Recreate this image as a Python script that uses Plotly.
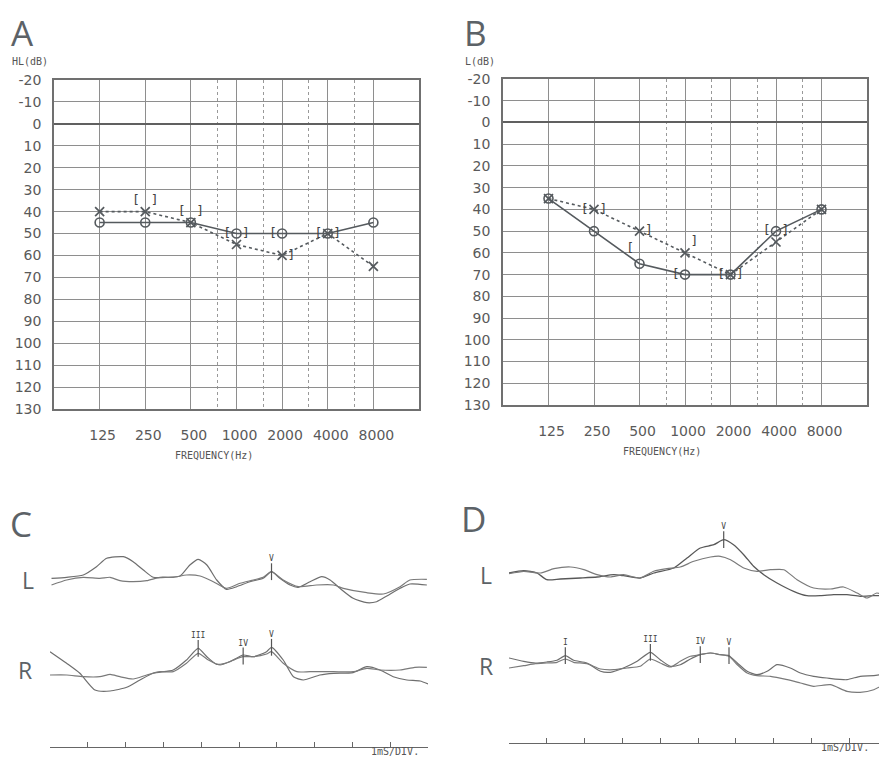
import math
import plotly.graph_objects as go

# page has an 8px body margin: build the figure 8px smaller and shift positions accordingly
OFF = 8
W, H = 887 - OFF, 758 - OFF
def px(x): return (x - OFF) / W
def py(y): return 1 - (y - OFF) / H

# ---------------- Audiogram data ----------------
freqs = [125, 250, 500, 1000, 2000, 4000, 8000]
freq_labels = ["125", "250", "500", "1000", "2000", "4000", "8000"]
half_octaves = [750, 1500, 3000, 6000]
db_ticks = list(range(-20, 131, 10))

A_air_R = [45, 45, 45, 50, 50, 50, 45]
A_air_L = [40, 40, 45, 55, 60, 50, 65]
A_boneR_f = [250, 500, 1000, 2000, 4000]
A_boneR_db = [35, 40, 50, 50, 50]
A_boneL_f = [250, 500, 1000, 2000, 4000]
A_boneL_db = [35, 40, 50, 60, 50]

B_air_R = [35, 50, 65, 70, 70, 50, 40]
B_air_L = [35, 40, 50, 60, 70, 55, 40]
B_boneR_f = [250, 500, 1000, 2000, 4000]
B_boneR_db = [40, 58, 70, 70, 50]
B_boneL_f = [250, 500, 1000, 2000, 4000]
B_boneL_db = [40, 50, 55, 70, 50]

# ---------------- ABR data (ms, arbitrary amplitude) ----------------
C_L1_ms = [0.04, 0.44, 0.88, 1.23, 1.50, 1.94, 2.20, 2.47, 2.73, 3.09, 3.44, 3.70, 3.92, 4.15, 4.41, 4.67, 4.94,
           5.29, 5.64, 5.86, 6.08, 6.35, 6.57, 6.88, 7.19, 7.41, 7.67, 8.02, 8.38, 8.64, 8.91, 9.26, 9.52, 9.97]
C_L1_amp = [1.7, 2.7, 5, 13.3, 21.7, 23.3, 18.3, 10, 2.7, 2.7, 4, 15, 20.7, 15, 0, -9.3, -6.7,
            -1.7, 1.7, 8.3, 1.7, -5, -7.3, -1.7, 3.3, 0, -8.3, -18.3, -22.7, -21.7, -16, -8.3, -4, -5]
C_L2_ms = [0.04, 0.44, 0.88, 1.32, 1.59, 1.85, 2.20, 2.56, 2.91, 3.26, 3.61, 3.97, 4.32, 4.67, 5.03, 5.38,
           5.64, 5.86, 6.17, 6.57, 7.05, 7.50, 7.76, 8.38, 8.82, 9.26, 9.52, 9.97]
C_L2_amp = [-5, 0, 2.7, 1.7, 2.7, -0.7, -1.7, -0.7, 2.7, 2.7, 5, 4, -1.7, -8.3, -3.3, 0,
            2.7, 8.3, 0, -6.7, -5, -5, -8.3, -12.7, -14, -6.7, 0, 0.7]

C_R1_ms = [0.0, 0.44, 0.79, 1.19, 1.59, 2.03, 2.38, 2.73, 3.26, 3.61, 3.92, 4.15, 4.41, 4.76, 5.11, 5.38,
           5.73, 5.86, 6.17, 6.44, 6.70, 7.14, 7.50, 8.02, 8.38, 8.73, 9.08, 9.44, 9.79, 10.0]
C_R1_amp = [23.3, 11.7, 1.7, -15, -16, -12.3, -5, 1.7, 5, 15, 26.7, 18.3, 10.7, 13.3, 20, 18.3,
            23.3, 27.7, 15, -1.7, -5, 0, 1.7, 2.3, 8.3, 5, -1.7, -5, -6, -9]
C_R2_ms = [0.0, 0.44, 0.88, 1.32, 1.59, 1.85, 2.20, 2.56, 2.91, 3.26, 3.61, 3.92, 4.19, 4.50, 4.85, 5.11,
           5.38, 5.73, 5.86, 6.17, 6.53, 6.88, 7.50, 8.02, 8.38, 8.73, 9.26, 9.65, 9.97]
C_R2_amp = [0, 0, -1.7, -1.7, 0.7, -1.7, -4, 0, 3.3, 3.3, 11.7, 21.7, 15, 10, 15, 18.3,
            18.3, 21, 23.3, 11.7, 3.3, 3.3, 3.3, 3.3, 6.7, 5, 5, 7.7, 7.7]

D_L1_ms = [0.0, 0.39, 0.74, 1.00, 1.36, 1.89, 2.33, 2.77, 3.03, 3.47, 3.83, 4.36, 4.71, 5.06, 5.42, 5.68,
           5.94, 6.21, 6.47, 6.74, 7.09, 7.53, 7.88, 8.24, 8.59, 8.94, 9.29, 9.65, 9.91]
D_L1_amp = [0, 2.3, 0, -6.7, -6, -5, -4, -1.7, -2.7, -5, 0, 5, 15, 25, 28.3, 33.3,
            28.3, 18.3, 6.7, -1.7, -10, -18.3, -22.7, -22.7, -21.7, -21.7, -23.3, -22.7, -22.7]
D_L2_ms = [0.0, 0.39, 0.83, 1.19, 1.63, 1.98, 2.33, 2.68, 3.03, 3.47, 3.83, 4.18, 4.53, 4.89, 5.33, 5.59,
           5.86, 6.21, 6.56, 6.92, 7.27, 7.62, 8.06, 8.50, 8.85, 9.21, 9.47, 9.73, 9.95]
D_L2_amp = [-0.7, 1.7, 0, 4.3, 6, 3.3, -1.7, -4, -1.7, -5, 1.7, 4.3, 6, 11.7, 16, 16.7,
            13.3, 5, 1.7, 3.3, 3.3, -6.7, -15, -16, -14, -20, -25, -20, -22.7]

D_R1_ms = [0.0, 0.39, 0.70, 1.00, 1.27, 1.49, 1.71, 2.06, 2.42, 2.68, 3.03, 3.39, 3.74, 4.00, 4.27, 4.53,
           4.80, 5.06, 5.33, 5.59, 5.82, 6.04, 6.30, 6.56, 6.83, 7.09, 7.44, 7.71, 8.06, 8.41, 8.94, 9.29, 9.65, 9.95]
D_R1_amp = [10, 6.7, 5, 6, 7.7, 12.3, 7.7, 5, -3.3, -4.3, 0, 6.7, 15.7, 8.3, 1.7, 3.3,
            9, 13.3, 15, 13.3, 12.3, 5, -3.3, -6.7, -3.3, 3.3, 0, -5, -8.3, -10, -11.7, -8.3, -7.7, -5.7]
D_R2_ms = [0.0, 0.39, 0.70, 1.00, 1.27, 1.49, 1.71, 2.06, 2.42, 2.77, 3.12, 3.47, 3.74, 4.00, 4.27, 4.53,
           4.80, 5.06, 5.33, 5.59, 5.82, 6.04, 6.30, 6.56, 6.92, 7.36, 7.71, 8.06, 8.50, 8.94, 9.29, 9.65, 9.95]
D_R2_amp = [0, 2.3, 4.3, 5, 5.7, 9, 5.7, 4.3, -1, -1.7, 0, 1.7, 9, 5, 1, 6.7,
            11.7, 13.3, 15, 13.3, 11.7, 3.3, -5, -7.7, -8.3, -11.7, -15, -18.3, -16.7, -23.3, -24.3, -21.7, -15.7]

C_L_peak_ms, C_L_peak_amp, C_L_peak_lab = [5.86], [8.3], ["V"]
C_R_peak_ms, C_R_peak_amp, C_R_peak_lab = [3.92, 5.11, 5.86], [26.7, 19.0, 27.7], ["III", "IV", "V"]
D_L_peak_ms, D_L_peak_amp, D_L_peak_lab = [5.68], [33.3], ["V"]
D_R_peak_ms, D_R_peak_amp, D_R_peak_lab = [1.49, 3.74, 5.06, 5.82], [12.3, 15.7, 13.3, 12.3], ["I", "III", "IV", "V"]

C_cal_ms, C_cal_amp = [10.12], [2.5]
C_calR_ms, C_calR_amp = [10.12], [9.5]
time_ticks = list(range(0, 11))

INK = "#555a5e"
GRID = "#8e8e8e"
TRACE = "#6e6e6e"

fig = go.Figure()

def audiogram(xa, ya, air_R, air_L, bR_f, bR_db, bL_f, bL_db):
    fig.add_trace(go.Scatter(x=freqs, y=air_L, mode="lines+markers", xaxis=xa, yaxis=ya,
                             line=dict(color=INK, width=1.6, dash="dot"),
                             marker=dict(symbol="x-thin-open", size=9, color=INK, line=dict(width=1.7, color=INK))))
    fig.add_trace(go.Scatter(x=freqs, y=air_R, mode="lines+markers", xaxis=xa, yaxis=ya,
                             line=dict(color=INK, width=1.6),
                             marker=dict(symbol="circle-open", size=9, color=INK, line=dict(width=1.6, color=INK))))
    fig.add_trace(go.Scatter(x=bR_f, y=bR_db, mode="markers+text", xaxis=xa, yaxis=ya, text=["["] * len(bR_f),
                             textposition="middle left", marker=dict(size=7, opacity=0),
                             textfont=dict(family="DejaVu Sans Mono", size=13, color="#444444")))
    fig.add_trace(go.Scatter(x=bL_f, y=bL_db, mode="markers+text", xaxis=xa, yaxis=ya, text=["]"] * len(bL_f),
                             textposition="middle right", marker=dict(size=7, opacity=0),
                             textfont=dict(family="DejaVu Sans Mono", size=13, color="#444444")))

audiogram("x", "y", A_air_R, A_air_L, A_boneR_f, A_boneR_db, A_boneL_f, A_boneL_db)
audiogram("x2", "y2", B_air_R, B_air_L, B_boneR_f, B_boneR_db, B_boneL_f, B_boneL_db)

def wave(xs, ys, xa, ya, color=TRACE, width=1.2):
    fig.add_trace(go.Scatter(x=xs, y=ys, mode="lines", xaxis=xa, yaxis=ya,
                             line=dict(color=color, width=width, shape="spline", smoothing=0.6)))

def peaks(xs, ys, labs, xa, ya):
    fig.add_trace(go.Scatter(x=xs, y=ys, mode="markers+text", xaxis=xa, yaxis=ya, text=labs,
                             textposition="top center", cliponaxis=False,
                             marker=dict(symbol="line-ns-open", size=12, color="#555", line=dict(width=1.2, color="#555")),
                             textfont=dict(family="DejaVu Sans Mono", size=8, color="#444444")))

wave(C_L1_ms, C_L1_amp, "x3", "y3")
wave(C_L2_ms, C_L2_amp, "x3", "y3", color="#7a7a7a")
wave(C_R1_ms, C_R1_amp, "x3", "y4")
wave(C_R2_ms, C_R2_amp, "x3", "y4", color="#7a7a7a")
peaks(C_L_peak_ms, C_L_peak_amp, C_L_peak_lab, "x3", "y3")
peaks(C_R_peak_ms, C_R_peak_amp, C_R_peak_lab, "x3", "y4")
fig.add_trace(go.Scatter(x=C_cal_ms, y=C_cal_amp, mode="markers", xaxis="x3", yaxis="y3", cliponaxis=False,
                         marker=dict(symbol="line-ns-open", size=39, line=dict(width=1.4, color="#666"))))
fig.add_trace(go.Scatter(x=C_calR_ms, y=C_calR_amp, mode="markers", xaxis="x3", yaxis="y4", cliponaxis=False,
                         marker=dict(symbol="line-ns-open", size=37, line=dict(width=1.4, color="#666"))))

wave(D_L1_ms, D_L1_amp, "x4", "y5", color="#585858", width=1.3)
wave(D_L2_ms, D_L2_amp, "x4", "y5", color="#7a7a7a")
wave(D_R1_ms, D_R1_amp, "x4", "y6")
wave(D_R2_ms, D_R2_amp, "x4", "y6", color="#7a7a7a")
peaks(D_L_peak_ms, D_L_peak_amp, D_L_peak_lab, "x4", "y5")
peaks(D_R_peak_ms, D_R_peak_amp, D_R_peak_lab, "x4", "y6")

tickfont = dict(family="DejaVu Sans", size=14, color="#5a5a5a")

def freq_axis(dom, anchor):
    return dict(type="log", range=[math.log10(62.5), math.log10(16000)], domain=dom, anchor=anchor,
                tickvals=freqs, ticktext=freq_labels, ticks="", ticklabelstandoff=12, ticklabelshift=3,
                tickfont=tickfont, showgrid=True, gridcolor=GRID, gridwidth=1, automargin=False,
                showline=True, mirror=True, linecolor="#707070", linewidth=1.5, zeroline=False,
                minor=dict(tickvals=half_octaves, showgrid=True, griddash="dot", gridcolor="#999", gridwidth=1, ticks=""),
                fixedrange=True)

def db_axis(dom, anchor):
    return dict(range=[130, -20], domain=dom, anchor=anchor, tickvals=db_ticks, automargin=False,
                ticktext=[str(v) for v in db_ticks], ticks="", ticklabelstandoff=8, tickfont=tickfont,
                showgrid=True, gridcolor=GRID, gridwidth=1, showline=True, mirror=True,
                linecolor="#707070", linewidth=1.5, zeroline=True, zerolinecolor="#606060", zerolinewidth=2,
                fixedrange=True)

def time_axis(dom, pos):
    return dict(range=[0, 10], domain=dom, anchor="free", position=pos, showline=True, linecolor="#666",
                linewidth=1.2, ticks="inside", ticklen=5, tickwidth=1, tickcolor="#666", tickvals=time_ticks,
                showticklabels=False, showgrid=False, zeroline=False, fixedrange=True, automargin=False)

def amp_axis(dom, anchor):
    return dict(range=[-40, 40], domain=dom, anchor=anchor, visible=False, fixedrange=True, automargin=False)

big = dict(family="Open Sans", size=35, color="#5c6267")
mid = dict(family="Open Sans", size=23, color="#5c6267")
small = dict(family="DejaVu Sans Mono", size=10, color="#555555")

ann = []
def note(text, x, y, font, xanchor="left", yanchor="middle"):
    ann.append(dict(text=text, x=px(x), y=py(y), xref="paper", yref="paper", showarrow=False,
                    xanchor=xanchor, yanchor=yanchor, font=font))

note("A", 9, 33, big)
note("B", 462, 32, big)
note("C", 8, 523, big)
note("D", 459, 518, big)
note("L", 20, 580, mid)
note("R", 16, 670, mid)
note("L", 478, 575, mid)
note("R", 477, 666, mid)
note("HL(dB)", 10, 62, small)
note("L(dB)", 463, 62, small)
note("FREQUENCY(Hz)", 214, 455, small, xanchor="center")
note("FREQUENCY(Hz)", 662, 451, small, xanchor="center")
note("1mS/DIV.", 395, 751, small, xanchor="center")
note("1mS/DIV.", 819, 747, small)

fig.update_layout(
    width=W, height=H, margin=dict(l=0, r=0, t=0, b=0, autoexpand=False),
    paper_bgcolor="white", plot_bgcolor="white", showlegend=False, hovermode=False,
    xaxis=freq_axis([px(54), px(419)], "y"),
    yaxis=db_axis([py(409), py(80)], "x"),
    xaxis2=freq_axis([px(503), px(867)], "y2"),
    yaxis2=db_axis([py(405), py(79)], "x2"),
    xaxis3=time_axis([px(50), px(428)], py(747)),
    yaxis3=amp_axis([py(620), py(540)], "x3"),
    yaxis4=amp_axis([py(715), py(635)], "x3"),
    xaxis4=time_axis([px(509), 1.0], py(743)),
    yaxis5=amp_axis([py(613), py(533)], "x4"),
    yaxis6=amp_axis([py(708), py(628)], "x4"),
    annotations=ann,
)

fig.write_html("out.html")
